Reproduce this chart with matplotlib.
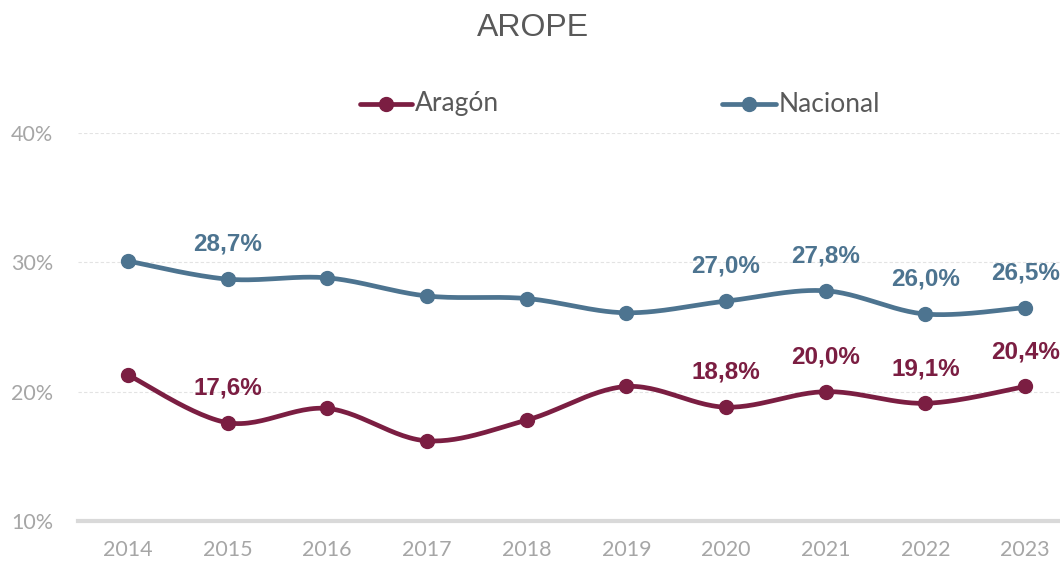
import matplotlib
matplotlib.use("Agg")
import matplotlib.pyplot as plt
import numpy as np
from matplotlib.lines import Line2D

years = [2014, 2015, 2016, 2017, 2018, 2019, 2020, 2021, 2022, 2023]
aragon = [21.3, 17.6, 18.7, 16.2, 17.8, 20.4, 18.8, 20.0, 19.1, 20.4]
nacional = [30.1, 28.7, 28.8, 27.4, 27.2, 26.1, 27.0, 27.8, 26.0, 26.5]
labeled_years = [2015, 2020, 2021, 2022, 2023]
yticks = [10, 20, 30, 40]
series_names = ["Aragón", "Nacional"]

c_ar = "#7B1E42"
c_na = "#4D7490"


def smooth(x, y, n=30):
    x = np.asarray(x, float)
    y = np.asarray(y, float)
    xs, ys = [], []
    for i in range(len(x) - 1):
        p0 = (x[i - 1], y[i - 1]) if i > 0 else (x[i], y[i])
        p1 = (x[i], y[i])
        p2 = (x[i + 1], y[i + 1])
        p3 = (x[i + 2], y[i + 2]) if i + 2 < len(x) else (x[i + 1], y[i + 1])
        c1 = (p1[0] + (p2[0] - p0[0]) / 6, p1[1] + (p2[1] - p0[1]) / 6)
        c2 = (p2[0] - (p3[0] - p1[0]) / 6, p2[1] - (p3[1] - p1[1]) / 6)
        t = np.linspace(0, 1, n)
        bx = (1 - t) ** 3 * p1[0] + 3 * (1 - t) ** 2 * t * c1[0] + 3 * (1 - t) * t ** 2 * c2[0] + t ** 3 * p2[0]
        by = (1 - t) ** 3 * p1[1] + 3 * (1 - t) ** 2 * t * c1[1] + 3 * (1 - t) * t ** 2 * c2[1] + t ** 3 * p2[1]
        xs.extend(bx)
        ys.extend(by)
    return np.array(xs), np.array(ys)


fig = plt.figure(figsize=(10.6, 5.62), dpi=100)
W, H = 1060, 562
ax = fig.add_axes([78 / W, (H - 521) / H, (1060 - 78) / W, (521 - 133) / H])
ax.set_xlim(2013.5, 2013.5 + (1060 - 78) / 99.7)
ax.set_ylim(10, 40)

for t in yticks[1:]:
    ax.axhline(t, color="#E3E3E3", lw=0.8, ls=(0, (3, 2)), zorder=0)
ax.axhline(10, color="#D9D9D9", lw=3, zorder=1, clip_on=False)

for vals, col in [(aragon, c_ar), (nacional, c_na)]:
    sx, sy = smooth(years, vals)
    ax.plot(sx, sy, color=col, lw=3.4, solid_capstyle="round", zorder=3)
    ax.plot(years, vals, "o", color=col, ms=10, zorder=4)
    for yr, v in zip(years, vals):
        if yr in labeled_years:
            ax.annotate(f"{v:.1f}%".replace(".", ","), (yr, v), xytext=(0, 25),
                        textcoords="offset points", ha="center", va="center",
                        fontsize=17.5, fontweight="bold", color=col,
                        family="Liberation Sans", zorder=5)

for s in ax.spines.values():
    s.set_visible(False)
ax.set_xticks(years)
ax.set_xticklabels([str(y) for y in years])
ax.set_yticks(yticks)
ax.set_yticklabels([f"{t}%" for t in yticks])
ax.tick_params(axis="both", length=0, colors="#A6A6A6", labelsize=15.5)
ax.tick_params(axis="x", pad=14)
ax.tick_params(axis="y", pad=18)
for lab in ax.get_xticklabels() + ax.get_yticklabels():
    lab.set_family("Lato")

fig.text(533 / W, 1 - 28 / H, "AROPE", ha="center", va="center", fontsize=23,
         color="#595959", family="Liberation Sans")

# legend drawn manually
leg_y = 1 - 104 / H
for (x0, x1), col, name in [((360, 412), c_ar, series_names[0]), ((722, 776), c_na, series_names[1])]:
    fig.add_artist(Line2D([x0 / W, x1 / W], [leg_y, leg_y], color=col, lw=3.4,
                          solid_capstyle="round", transform=fig.transFigure))
    fig.add_artist(Line2D([(x0 + x1) / 2 / W], [leg_y], color=col, marker="o", ms=10,
                          transform=fig.transFigure))
    fig.text((x1 + 3) / W, leg_y, name, ha="left", va="center", fontsize=19,
             color="#595959", family="Lato")

fig.savefig("out.png", dpi=100)
